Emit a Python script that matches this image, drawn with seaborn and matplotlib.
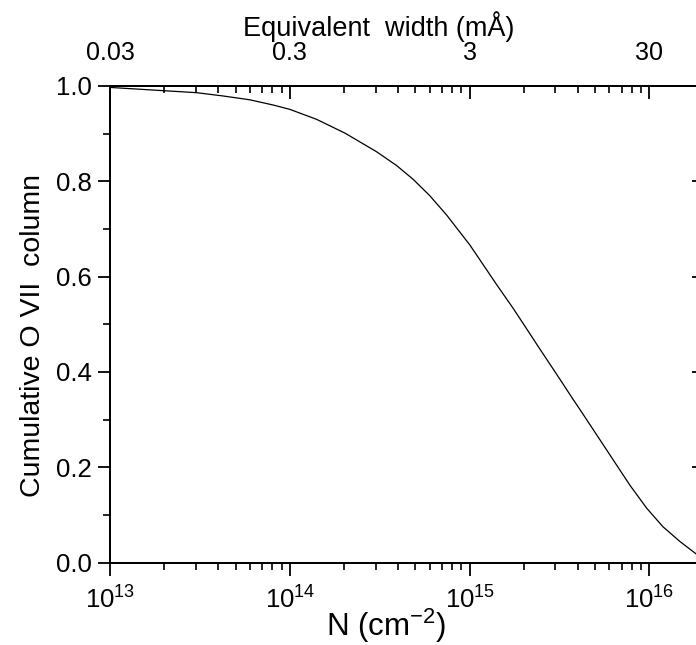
import matplotlib
matplotlib.use("Agg")
import matplotlib.pyplot as plt
import seaborn as sns
import pandas as pd
from matplotlib.ticker import LogLocator, FixedLocator, FixedFormatter, MultipleLocator, NullFormatter

# column density (cm^-2) and cumulative O VII fraction
col_N = [1e13, 2.02e13, 3.03e13, 4.27e13, 6.0e13, 8.1e13, 1.0e14, 1.41e14,
         2.03e14, 3.04e14, 3.93e14, 4.86e14, 6.0e14, 7.46e14, 1.005e15,
         1.415e15, 1.75e15, 2.08e15, 2.46e15, 3.05e15, 3.74e15, 4.11e15,
         5.09e15, 6.3e15, 7.8e15, 9.66e15, 1.19e16, 1.48e16, 1.82e16, 2.0e16]
cum_frac = [0.997, 0.990, 0.986, 0.979, 0.971, 0.960, 0.951, 0.930,
            0.901, 0.862, 0.833, 0.804, 0.770, 0.729, 0.666,
            0.583, 0.533, 0.490, 0.448, 0.395, 0.344, 0.321,
            0.268, 0.215, 0.162, 0.114, 0.075, 0.044, 0.018, 0.007]

# top axis: equivalent width (mA) at the bottom-axis decades
ew_ticks_N = [1e13, 1e14, 1e15, 1e16]
ew_labels = ["0.03", "0.3", "3", "30"]

df = pd.DataFrame({"N": col_N, "frac": cum_frac})

sns.set_theme(style="ticks")
plt.rcParams["font.family"] = ["Liberation Sans", "DejaVu Sans"]
plt.rcParams["mathtext.fontset"] = "custom"
plt.rcParams["mathtext.rm"] = "Liberation Sans"
plt.rcParams["mathtext.it"] = "Liberation Sans:italic"
plt.rcParams["axes.linewidth"] = 1.3
for key in ["text.color", "axes.labelcolor", "axes.edgecolor",
            "xtick.color", "ytick.color"]:
    plt.rcParams[key] = "black"

fig = plt.figure(figsize=(6.96, 6.45), dpi=100)
left, right = 110 / 696, 703.5 / 696
bottom, top = (645 - 562.5) / 645, (645 - 86) / 645
ax = fig.add_axes([left, bottom, right - left, top - bottom])

sns.lineplot(data=df, x="N", y="frac", ax=ax, color="black", linewidth=0.9)
ax.set_xscale("log")
ax.set_xlim(1e13, 2e16)
ax.set_ylim(0, 1.0)

ax.xaxis.set_major_locator(LogLocator(base=10, numticks=10))
ax.xaxis.set_minor_locator(LogLocator(base=10, subs=range(2, 10), numticks=20))
ax.xaxis.set_minor_formatter(NullFormatter())
ax.yaxis.set_major_locator(MultipleLocator(0.2))
ax.yaxis.set_minor_locator(MultipleLocator(0.1))
ax.yaxis.set_major_formatter(matplotlib.ticker.FormatStrFormatter("%.1f"))

ax.tick_params(which="major", direction="out", length=9, width=1.3,
               labelsize=18.5, colors="black", pad=4)
ax.tick_params(axis="x", which="major", pad=8)
ax.tick_params(which="minor", direction="out", length=5, width=1.2)
ax.set_xlabel(r"N (cm$^{-2}$)", fontsize=22.5)
ax.xaxis.set_label_coords(0.465, -0.092)
ax.set_ylabel("Cumulative O VII  column", fontsize=20.5)
ax.yaxis.set_label_coords(-0.108, 0.477)

# top axis with equivalent width
ax_t = ax.twiny()
ax_t.set_xscale("log")
ax_t.set_xlim(ax.get_xlim())
ax_t.xaxis.set_major_locator(FixedLocator(ew_ticks_N))
ax_t.xaxis.set_major_formatter(FixedFormatter(ew_labels))
ax_t.xaxis.set_minor_locator(LogLocator(base=10, subs=range(2, 10), numticks=20))
ax_t.xaxis.set_minor_formatter(NullFormatter())
ax_t.tick_params(which="major", direction="in", length=9, width=1.3,
                 labelsize=18, pad=15)
ax_t.tick_params(which="minor", direction="in", length=5, width=1.2)
ax_t.set_xlabel("Equivalent  width (mÅ)", fontsize=19.5)
ax_t.xaxis.set_label_coords(0.452, 1.105)

# right axis: major ticks only, pointing in
ax_r = ax.twinx()
ax_r.set_ylim(ax.get_ylim())
ax_r.yaxis.set_major_locator(MultipleLocator(0.2))
ax_r.tick_params(which="major", direction="in", length=9, width=1.3,
                 labelright=False)
ax_r.tick_params(which="minor", length=0)

fig.savefig("out.png", dpi=100)
